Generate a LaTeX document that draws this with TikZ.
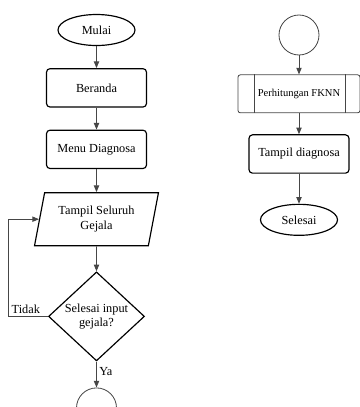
\documentclass[tikz,border=0pt]{standalone}
\usepackage{fontspec}
\setmainfont{Liberation Serif}
\usepackage{tikz}
\usetikzlibrary{arrows.meta, positioning, shapes.geometric, calc}
\definecolor{lineclr}{RGB}{70, 70, 70}

\begin{document}
\begin{tikzpicture}[
    x=0.03cm, y=-0.03cm,
    font=\fontsize{10.5}{12.5}\selectfont,
    term/.style={ellipse, draw, line width=1pt, minimum width=2.31cm, minimum height=0.93cm, inner sep=0pt},
    box/.style={rectangle, draw, rounded corners=3pt, line width=1pt, minimum width=3cm, minimum height=1.15cm, align=center},
    proc/.style={rectangle, draw=lineclr, rounded corners=2pt, line width=0.7pt, minimum width=3.66cm, minimum height=1.14cm, font=\fontsize{9}{11}\selectfont},
    io/.style={trapezium, trapezium left angle=74, trapezium right angle=106, trapezium stretches=true, draw, line width=1pt, minimum width=3.72cm, minimum height=1.59cm, align=center, inner sep=0pt},
    dec/.style={diamond, draw, line width=1pt, minimum width=2.88cm, minimum height=2.52cm, inner sep=0pt, align=center},
    conn/.style={circle, draw=lineclr, line width=0.7pt, minimum size=1.2cm},
    arr/.style={-{Triangle[length=2mm, width=1.6mm]}, draw=lineclr, line width=0.8pt}
]
    \useasboundingbox (0,0) rectangle (360,407);

    % left column
    \node[term] (mulai) at (96.5,30) {Mulai};
    \node[box, below=0.66cm of mulai] (beranda) {Beranda};
    \node[box, below=0.66cm of beranda] (menu) {Menu Diagnosa};
    \node[io, below=0.69cm of menu] (tampil) {Tampil Seluruh\\Gejala};
    \node[dec, below=0.75cm of tampil] (cek) {Selesai input\\gejala?};
    \node[conn, below=0.78cm of cek] (kon1) {};

    % right column
    \node[conn] (kon2) at (299,35) {};
    \node[proc, below=0.57cm of kon2] (fknn) {Perhitungan FKNN};
    \draw[lineclr, line width=0.7pt] ([xshift=0.5cm]fknn.north west) -- ([xshift=0.5cm]fknn.south west);
    \draw[lineclr, line width=0.7pt] ([xshift=-0.45cm]fknn.north east) -- ([xshift=-0.45cm]fknn.south east);
    \node[box, below=0.63cm of fknn] (hasil) {Tampil diagnosa};
    \node[term, below=0.9cm of hasil] (selesai) {Selesai};

    \draw[arr] (mulai) -- (beranda);
    \draw[arr] (beranda) -- (menu);
    \draw[arr] (menu) -- (tampil);
    \draw[arr] (tampil) -- (cek);
    \draw[arr] (cek) -- node[right, pos=0.4, inner sep=2pt]{Ya} (kon1);
    \draw[arr] (cek.west) -- ++(-39,0) node[above right, inner sep=2pt]{Tidak} |- (tampil.west);

    \draw[arr] (kon2) -- (fknn);
    \draw[arr] (fknn) -- (hasil);
    \draw[arr] (hasil) -- (selesai);
\end{tikzpicture}
\end{document}
